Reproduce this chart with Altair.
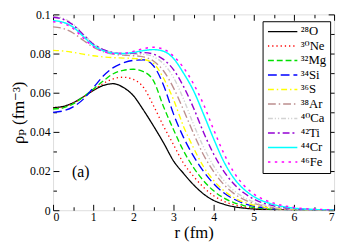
import altair as alt
import pandas as pd

r = [0, 0.25, 0.5, 0.75, 1.0, 1.25, 1.5, 1.75, 2.0, 2.25, 2.5, 2.75, 3.0, 3.25,
     3.5, 3.75, 4.0, 4.25, 4.5, 4.75, 5.0, 5.5, 6.0, 6.5, 7.0]

rho_O  = [0.0524, 0.0530, 0.0549, 0.0578, 0.0611, 0.0637, 0.0646, 0.0627, 0.0585, 0.0512, 0.0431, 0.0345, 0.0252, 0.0188, 0.0130, 0.0083, 0.0050, 0.0031, 0.0018, 0.0011, 0.0006, 0.0002, 0.0001, 0.0, 0.0]
rho_Ne = [0.0520, 0.0526, 0.0546, 0.0578, 0.0613, 0.0647, 0.0671, 0.0679, 0.0668, 0.0628, 0.0535, 0.0430, 0.0335, 0.0240, 0.0173, 0.0117, 0.0074, 0.0046, 0.0028, 0.0017, 0.0010, 0.0003, 0.0001, 0.0, 0.0]
rho_Mg = [0.0517, 0.0523, 0.0543, 0.0578, 0.0618, 0.0660, 0.0697, 0.0714, 0.0720, 0.0708, 0.0662, 0.0530, 0.0412, 0.0303, 0.0218, 0.0150, 0.0099, 0.0063, 0.0039, 0.0024, 0.0014, 0.0005, 0.0001, 0.0, 0.0]
rho_Si = [0.0500, 0.0507, 0.0528, 0.0566, 0.0625, 0.0685, 0.0728, 0.0752, 0.0765, 0.0768, 0.0738, 0.0640, 0.0492, 0.0372, 0.0276, 0.0198, 0.0136, 0.0089, 0.0057, 0.0035, 0.0021, 0.0007, 0.0002, 0.0001, 0.0]
rho_S  = [0.0816, 0.0813, 0.0806, 0.0797, 0.0789, 0.0783, 0.0779, 0.0777, 0.0775, 0.0770, 0.0750, 0.0675, 0.0565, 0.0428, 0.0318, 0.0222, 0.0152, 0.0101, 0.0065, 0.0041, 0.0026, 0.0009, 0.0003, 0.0001, 0.0]
rho_Ar = [0.0936, 0.0928, 0.0905, 0.0868, 0.0833, 0.0810, 0.0797, 0.0792, 0.0789, 0.0783, 0.0762, 0.0712, 0.0625, 0.0512, 0.0392, 0.0282, 0.0197, 0.0132, 0.0086, 0.0055, 0.0035, 0.0013, 0.0005, 0.0002, 0.0]
rho_Ca = [0.0990, 0.0980, 0.0950, 0.0900, 0.0852, 0.0822, 0.0805, 0.0798, 0.0797, 0.0796, 0.0784, 0.0748, 0.0678, 0.0568, 0.0438, 0.0322, 0.0226, 0.0153, 0.0101, 0.0066, 0.0042, 0.0016, 0.0006, 0.0002, 0.0001]
rho_Ti = [0.0985, 0.0975, 0.0946, 0.0897, 0.0849, 0.0820, 0.0805, 0.0800, 0.0802, 0.0805, 0.0797, 0.0770, 0.0718, 0.0632, 0.0522, 0.0397, 0.0287, 0.0200, 0.0135, 0.0089, 0.0057, 0.0022, 0.0008, 0.0003, 0.0001]
rho_Cr = [0.0968, 0.0960, 0.0935, 0.0888, 0.0842, 0.0815, 0.0802, 0.0800, 0.0806, 0.0815, 0.0820, 0.0812, 0.0775, 0.0700, 0.0610, 0.0490, 0.0365, 0.0250, 0.0165, 0.0108, 0.0070, 0.0029, 0.0011, 0.0004, 0.0001]
rho_Fe = [0.0962, 0.0954, 0.0928, 0.0880, 0.0836, 0.0811, 0.0800, 0.0801, 0.0811, 0.0825, 0.0832, 0.0822, 0.0787, 0.0728, 0.0645, 0.0540, 0.0412, 0.0292, 0.0195, 0.0128, 0.0083, 0.0036, 0.0014, 0.0005, 0.0002]

nuclei = ["²⁸O", "³⁰Ne", "³²Mg", "³⁴Si", "³⁶S", "³⁸Ar", "⁴⁰Ca", "⁴²Ti", "⁴⁴Cr", "⁴⁶Fe"]
series = [rho_O, rho_Ne, rho_Mg, rho_Si, rho_S, rho_Ar, rho_Ca, rho_Ti, rho_Cr, rho_Fe]
colors = ["#000000", "#ff0000", "#00e000", "#0000ff", "#ffff00", "#bc8f8f",
          "#d3d3d3", "#9400d3", "#00ffff", "#ff00ff"]
dashes = [[1, 0], [1.3, 3], [6, 3], [9, 4], [6, 3, 1.5, 3], [8, 3, 1.5, 3],
          [5, 2, 1.2, 2, 1.2, 2], [7, 3, 2, 3], [1, 0], [2.5, 4.5]]
widths = [1.3, 1.5, 1.5, 1.5, 1.5, 1.5, 1.5, 1.9, 3.0, 3.0]

x_major = [0, 1, 2, 3, 4, 5, 6, 7]
x_minor = [0.5, 1.5, 2.5, 3.5, 4.5, 5.5, 6.5]
y_major = [0, 0.02, 0.04, 0.06, 0.08, 0.1]
y_minor = [0.01, 0.03, 0.05, 0.07, 0.09]

ann_r = [0.69]
ann_rho = [0.0195]
ann_text = ["(a)"]

rows = []
for name, vals in zip(nuclei, series):
    for rv, pv in zip(r, vals):
        rows.append({"r": rv, "rho": pv, "nuc": name})
df = pd.DataFrame(rows)
ann = pd.DataFrame({"r": ann_r, "rho": ann_rho, "t": ann_text})

FONT = "Liberation Serif, DejaVu Serif, serif"
xs = alt.Scale(domain=[0, 7], nice=False, zero=False)
ys = alt.Scale(domain=[0, 0.1], nice=False, zero=False)

def xaxis(orient, values, size, labels, title=None):
    kw = dict(orient=orient, values=values, tickSize=size, offset=-size, domain=False,
              labels=labels, grid=False, tickColor="black", tickWidth=1)
    if labels:
        kw.update(labelFont=FONT, labelFontSize=12, labelColor="black", labelPadding=2,
                  format="d")
    if title:
        kw.update(title=title, titleFont=FONT, titleFontSize=17, titleFontWeight="normal",
                  titleColor="black", titlePadding=2)
    else:
        kw.update(title=None)
    return alt.Axis(**kw)

def yaxis(orient, values, size, labels, title=None):
    kw = dict(orient=orient, values=values, tickSize=size, offset=-size, domain=False,
              labels=labels, grid=False, tickColor="black", tickWidth=1)
    if labels:
        kw.update(labelFont=FONT, labelFontSize=12, labelColor="black", labelPadding=3,
                  format=".2~f")
    if title:
        kw.update(title=title, titleFont=FONT, titleFontSize=17, titleFontWeight="normal",
                  titleColor="black", titlePadding=2)
    else:
        kw.update(title=None)
    return alt.Axis(**kw)

legend = alt.Legend(
    title=None, orient="none", legendX=214, legendY=7,
    strokeColor="black", fillColor="white", padding=4,
    symbolType="M-3,0L3,0", symbolSize=100, symbolOffset=10,
    labelFont=FONT, labelFontSize=13, labelColor="black", labelOffset=12,
    rowPadding=0.8,
)

lines = alt.Chart(df).mark_line(interpolate="monotone", clip=True).encode(
    x=alt.X("r:Q", scale=xs, axis=xaxis("bottom", x_major, 6, True, "r (fm)")),
    y=alt.Y("rho:Q", scale=ys, axis=yaxis("left", y_major, 6, True, "ρₚ (fm⁻³)")),
    color=alt.Color("nuc:N", scale=alt.Scale(domain=nuclei, range=colors), legend=legend),
    strokeDash=alt.StrokeDash("nuc:N", scale=alt.Scale(domain=nuclei, range=dashes), legend=legend),
    strokeWidth=alt.StrokeWidth("nuc:N", scale=alt.Scale(domain=nuclei, range=widths), legend=legend),
    detail="nuc:N",
)

def ghost(xa, ya):
    return alt.Chart(df).mark_line(opacity=0).encode(
        x=alt.X("r:Q", scale=xs, axis=xa),
        y=alt.Y("rho:Q", scale=ys, axis=ya),
        detail="nuc:N",
    )

g1 = ghost(xaxis("bottom", x_minor, 3.5, False), yaxis("left", y_minor, 3.5, False))
g2 = ghost(xaxis("top", x_major, 6, False), yaxis("right", y_major, 6, False))
g3 = ghost(xaxis("top", x_minor, 3.5, False), yaxis("right", y_minor, 3.5, False))

label = alt.Chart(ann).mark_text(font=FONT, fontSize=16, color="black").encode(
    x=alt.X("r:Q", scale=xs, axis=None),
    y=alt.Y("rho:Q", scale=ys, axis=None),
    text="t:N",
)

chart = alt.layer(lines, g1, g2, g3, label).resolve_axis(
    x="independent", y="independent"
).properties(
    width=287, height=200,
    padding={"left": 46, "top": 4, "right": 3, "bottom": 33},
    autosize=alt.AutoSizeParams(type="none"),
).configure_view(stroke="black", strokeWidth=1.2).configure(background="white")

chart.save("out.html", embed_options={"renderer": "svg", "actions": False})
